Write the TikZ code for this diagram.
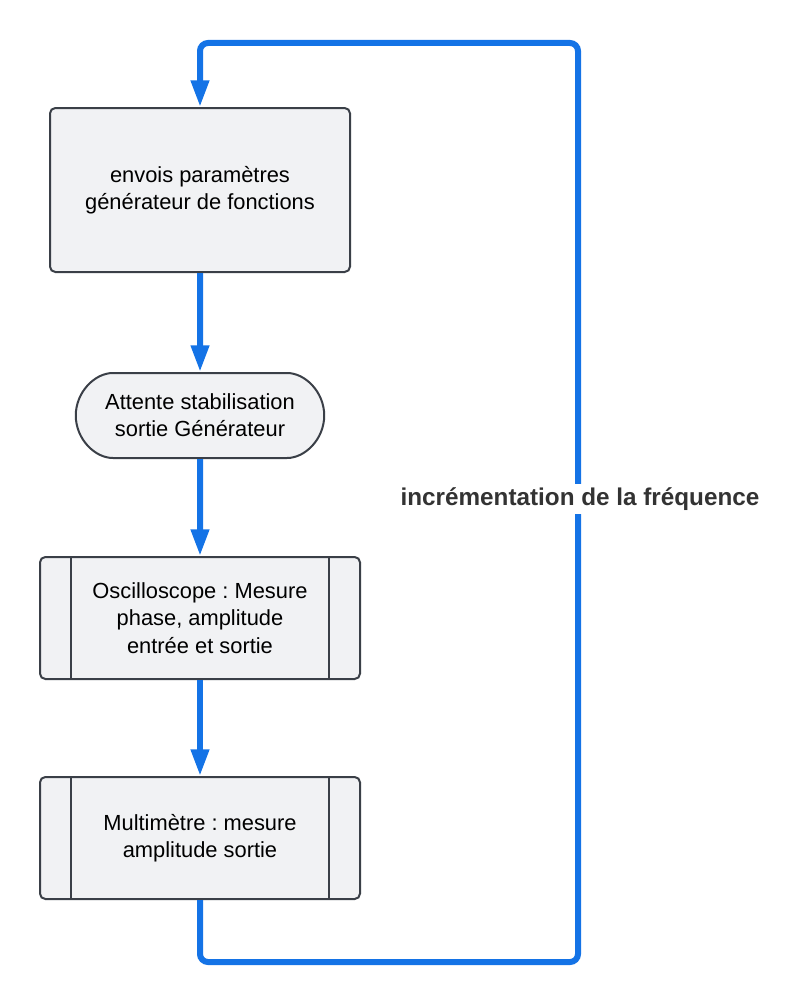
\documentclass[tikz,border=0pt]{standalone}
\usepackage{fontspec}
\setmainfont{Liberation Sans}
\usetikzlibrary{arrows.meta,shapes.misc}
\definecolor{flowblue}{HTML}{1473E6}
\definecolor{boxfill}{HTML}{F1F2F4}
\definecolor{boxline}{HTML}{3A3F47}
\definecolor{labelgray}{HTML}{333333}
\frenchspacing
\tikzset{
  block/.style={draw=boxline,fill=boxfill,line width=1.5pt,rounded corners=4pt,align=center,
    font=\fontsize{16.4}{20.5}\selectfont},
  term/.style={block,rounded rectangle,minimum width=193pt,minimum height=63.75pt},
  proc/.style={block,minimum width=240pt,minimum height=91.5pt},
  flow/.style={draw=flowblue,line width=4.5pt}
}
\begin{document}
\begin{tikzpicture}[x=0.75pt,y=-0.75pt,>={Triangle[length=20pt,width=13pt]}]
  \useasboundingbox (0,0) rectangle (800,1006);
  % the loop first, so the boxes sit on it
  \coordinate (lb) at (578,962);
  \coordinate (lt) at (578,43);
  \node[block,minimum width=225pt,minimum height=123pt] (gen) at (200,190)
    {envois paramètres\\générateur de fonctions};
  \node[term] (wait) at (200,415.5) {Attente stabilisation\\sortie Générateur};
  \node[proc] (osc) at (200,618) {Oscilloscope : Mesure\\phase, amplitude\\entrée et sortie};
  \node[proc] (mm) at (200,838) {Multimètre : mesure\\amplitude sortie};
  \draw[flow,->,rounded corners=6pt] (mm.south) |- (lb) -- (lt) -| (gen.north);
  \draw[flow,->] (gen) -- (wait);
  \draw[flow,->] (wait) -- (osc);
  \draw[flow,->] (osc) -- (mm);
  % side bars of the process boxes
  \foreach \b in {osc,mm} {
    \draw[boxline,line width=1.5pt] ([xshift=24pt]\b.north west) -- ([xshift=24pt]\b.south west);
    \draw[boxline,line width=1.5pt] ([xshift=-24pt]\b.north east) -- ([xshift=-24pt]\b.south east);
  }
  \node[fill=white,text=labelgray,inner sep=3pt,font=\fontsize{18.2}{20}\selectfont\bfseries] (inc) at (580,499)
    {incrémentation de la fréquence};
\end{tikzpicture}
\end{document}
